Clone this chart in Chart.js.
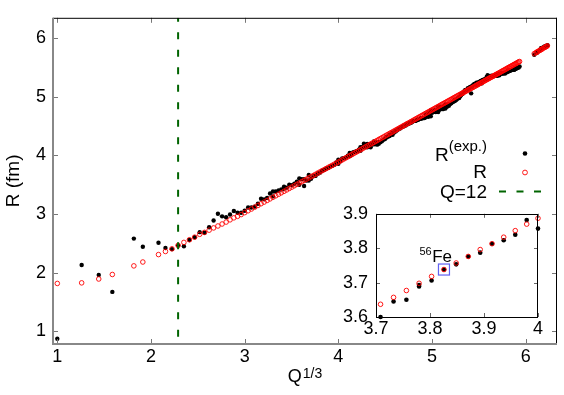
<!DOCTYPE html>
<html>
<head>
<meta charset="utf-8">
<script src="https://cdn.jsdelivr.net/npm/chart.js@4.4.1/dist/chart.umd.min.js"></script>
<style>
  html, body { margin: 0; padding: 0; background: #fff; }
  #wrap { position: relative; width: 564px; height: 395px; }
  #main { position: absolute; left: 0; top: 0; }
  #inset { position: absolute; left: 330px; top: 195px; }
</style>
</head>
<body>
<div id="wrap">
  <canvas id="main" width="564" height="395"></canvas>
  <canvas id="inset" width="220" height="152"></canvas>
</div>
<script>
// ---------------- data (Q = mass number, R in fm) ----------------
const expQ = [
  1,2,3,4,6,7,9,10,11,12,
  13,14,15,16,17,18,19,20,21,22,
  23,24,25,26,27,28,29,30,31,32,
  33,34,35,36,36,37,38,39,40,40,
  41,42,43,44,45,46,46,47,48,48,
  49,50,50,51,52,53,54,54,55,56,
  57,58,59,60,61,62,63,64,64,65,
  66,67,68,69,70,70,71,72,73,74,
  74,75,76,76,77,78,78,79,80,80,
  81,82,82,83,84,84,85,86,86,87,
  87,88,89,90,91,92,92,93,94,94,
  95,96,96,96,97,98,98,99,100,100,
  101,102,102,103,104,104,105,106,106,107,
  108,108,109,110,110,111,112,112,113,113,
  114,114,115,116,116,117,118,119,120,120,
  121,122,122,123,124,124,124,125,126,126,
  127,128,128,129,130,130,130,131,132,132,
  133,134,134,135,136,136,136,137,138,138,
  139,140,141,142,142,143,144,144,145,146,
  147,148,148,149,150,150,151,152,152,153,
  154,154,155,156,156,157,158,158,159,160,
  160,161,162,162,163,164,164,165,166,167,
  168,168,169,170,170,171,172,173,174,174,
  175,176,176,177,178,179,180,180,181,182,
  183,184,184,185,186,186,187,187,188,189,
  190,191,192,192,193,194,195,196,196,197,
  198,198,199,200,201,202,203,204,204,205,
  206,207,208,209,226,229,230,232,233,234,
  235,236,238,239,240,242
];
const expR = [
  0.87,2.13,1.96,1.67,2.58,2.44,2.51,2.42,2.40,2.46,
  2.45,2.555,2.604,2.69,2.68,2.774,2.89,3.005,2.96,2.945,
  2.99,3.05,3.02,3.02,3.055,3.11,3.11,3.125,3.175,3.26,
  3.25,3.275,3.35,3.385,3.30,3.385,3.40,3.42,3.467,3.43,
  3.45,3.50,3.49,3.516,3.55,3.50,3.607,3.596,3.477,3.592,
  3.572,3.571,3.665,3.600,3.645,3.650,3.689,3.693,3.706,3.738,
  3.753,3.776,3.787,3.813,3.823,3.839,3.882,3.857,3.928,3.902,
  3.950,3.953,3.966,3.997,3.988,4.041,4.010,4.057,4.063,4.074,
  4.070,4.097,4.081,4.139,4.140,4.140,4.200,4.160,4.140,4.198,
  4.160,4.140,4.192,4.190,4.188,4.240,4.200,4.184,4.226,4.198,
  4.224,4.224,4.243,4.269,4.280,4.306,4.315,4.324,4.332,4.352,
  4.360,4.351,4.384,4.390,4.390,4.409,4.420,4.430,4.445,4.450,
  4.460,4.480,4.480,4.490,4.510,4.500,4.510,4.530,4.540,4.540,
  4.550,4.560,4.560,4.580,4.580,4.590,4.590,4.590,4.600,4.600,
  4.610,4.610,4.620,4.630,4.630,4.630,4.640,4.640,4.650,4.700,
  4.680,4.660,4.720,4.690,4.670,4.720,4.770,4.730,4.740,4.770,
  4.750,4.740,4.780,4.780,4.740,4.780,4.830,4.780,4.790,4.830,
  4.800,4.790,4.830,4.830,4.800,4.830,4.870,4.830,4.840,4.870,
  4.850,4.880,4.890,4.910,4.910,4.920,4.930,4.950,4.940,4.960,
  4.980,4.980,5.000,5.010,5.040,5.040,5.050,5.080,5.080,5.110,
  5.110,5.120,5.120,5.140,5.150,5.140,5.160,5.170,5.060,5.170,
  5.190,5.200,5.210,5.220,5.210,5.220,5.240,5.200,5.250,5.250,
  5.260,5.270,5.230,5.280,5.290,5.290,5.300,5.300,5.310,5.340,
  5.370,5.320,5.350,5.350,5.350,5.360,5.350,5.350,5.350,5.360,
  5.360,5.370,5.380,5.360,5.380,5.390,5.370,5.390,5.400,5.400,
  5.400,5.400,5.410,5.410,5.400,5.420,5.420,5.430,5.450,5.440,
  5.440,5.450,5.450,5.460,5.460,5.470,5.460,5.480,5.480,5.480,
  5.490,5.500,5.500,5.520,5.720,5.750,5.770,5.785,5.800,5.830,
  5.830,5.840,5.857,5.860,5.870,5.880
];
const modQ = [
  1,2,3,4,6,7,9,10,11,12,
  13,14,15,16,17,18,19,20,21,22,
  23,24,25,26,27,28,29,30,31,32,
  33,34,35,36,37,38,39,40,41,42,
  43,44,45,46,47,48,49,50,51,52,
  53,54,55,56,57,58,59,60,61,62,
  63,64,65,66,67,68,69,70,71,72,
  73,74,75,76,77,78,79,80,81,82,
  83,84,85,86,87,88,89,90,91,92,
  93,94,95,96,97,98,99,100,101,102,
  103,104,105,106,107,108,109,110,111,112,
  113,114,115,116,117,118,119,120,121,122,
  123,124,125,126,127,128,129,130,131,132,
  133,134,135,136,137,138,139,140,141,142,
  143,144,145,146,147,148,149,150,151,152,
  153,154,155,156,157,158,159,160,161,162,
  163,164,165,166,167,168,169,170,171,172,
  173,174,175,176,177,178,179,180,181,182,
  183,184,185,186,187,188,189,190,191,192,
  193,194,195,196,197,198,199,200,201,202,
  203,204,205,206,207,208,209,226,228,229,
  230,232,233,234,235,236,238,239,240,241,
  242
];
const modR = [
  1.814,1.824,1.890,1.967,2.114,2.180,2.307,2.360,2.405,2.465,
  2.515,2.560,2.604,2.653,2.686,2.724,2.762,2.795,2.829,2.862,
  2.900,2.934,2.960,2.990,3.023,3.055,3.085,3.116,3.145,3.175,
  3.203,3.231,3.258,3.285,3.311,3.337,3.362,3.387,3.411,3.436,
  3.459,3.482,3.506,3.528,3.551,3.573,3.594,3.616,3.637,3.657,
  3.677,3.698,3.718,3.738,3.757,3.776,3.796,3.813,3.832,3.851,
  3.870,3.887,3.905,3.924,3.942,3.960,3.977,3.995,4.012,4.030,
  4.047,4.063,4.080,4.097,4.113,4.130,4.146,4.162,4.178,4.194,
  4.209,4.225,4.240,4.255,4.271,4.286,4.301,4.315,4.330,4.345,
  4.359,4.374,4.388,4.402,4.416,4.430,4.444,4.458,4.472,4.485,
  4.499,4.512,4.526,4.539,4.552,4.565,4.578,4.591,4.604,4.617,
  4.630,4.642,4.655,4.667,4.680,4.692,4.705,4.717,4.729,4.741,
  4.753,4.765,4.777,4.789,4.800,4.812,4.824,4.835,4.847,4.858,
  4.870,4.881,4.892,4.903,4.914,4.925,4.936,4.947,4.958,4.969,
  4.980,4.991,5.001,5.012,5.023,5.033,5.044,5.054,5.065,5.075,
  5.085,5.096,5.106,5.116,5.126,5.136,5.146,5.156,5.166,5.176,
  5.186,5.196,5.206,5.216,5.226,5.235,5.245,5.254,5.264,5.274,
  5.283,5.293,5.302,5.311,5.321,5.330,5.339,5.349,5.358,5.367,
  5.376,5.385,5.394,5.403,5.412,5.421,5.430,5.440,5.448,5.457,
  5.466,5.475,5.484,5.493,5.501,5.510,5.519,5.527,5.536,5.545,
  5.553,5.562,5.570,5.579,5.587,5.596,5.604,5.738,5.755,5.763,
  5.772,5.789,5.797,5.805,5.814,5.822,5.839,5.847,5.855,5.863,
  5.871
];
const cutQ = 12;                 // vertical marker Q = 12
const markQ = 56, markR = 3.738; // highlighted 56Fe
const xTicks = [1, 2, 3, 4, 5, 6];
const yTicks = [1, 2, 3, 4, 5, 6];
const insetXTicks = [3.7, 3.8, 3.9, 4];
const insetYTicks = [3.6, 3.7, 3.8, 3.9];
const legendLabels = ['R', '(exp.)', 'R', 'Q=12'];
const xTitle = ['Q', '1/3'];
const yTitle = 'R (fm)';
const markLabel = ['56', 'Fe'];

// ---------------- setup ----------------
const FONT = "'Liberation Sans', Arial, Helvetica, sans-serif";
Chart.defaults.font.family = FONT;
Chart.defaults.color = '#000';

const toPts = (qs, rs) => qs.map((q, i) => ({ x: Math.cbrt(q), y: rs[i] }));
const expPts = toPts(expQ, expR);
const modPts = toPts(modQ, modR);

const X_MIN = 0.954, X_MAX = 6.334, Y_MIN = 0.78, Y_MAX = 6.35;
const RED = 'rgba(255,0,0,0.9)';
const GREEN = '#006400';

function seg(ctx, x1, y1, x2, y2) { ctx.beginPath(); ctx.moveTo(x1, y1); ctx.lineTo(x2, y2); ctx.stroke(); }

const mainDeco = {
  id: 'mainDeco',
  afterDatasetsDraw(chart) {
    const { ctx, chartArea: a, scales: { x, y } } = chart;
    ctx.save();
    ctx.lineWidth = 1;
    ctx.strokeStyle = '#777';
    xTicks.forEach(v => {
      const p = Math.round(x.getPixelForValue(v)) + 0.5;
      seg(ctx, p, a.bottom, p, a.bottom - 5);
      seg(ctx, p, a.top, p, a.top + 5);
    });
    yTicks.forEach(v => {
      const p = Math.round(y.getPixelForValue(v)) + 0.5;
      seg(ctx, a.left, p, a.left + 5, p);
      seg(ctx, a.right, p, a.right - 5, p);
    });
    ctx.strokeStyle = '#000';
    ctx.lineWidth = 1;
    seg(ctx, a.left, a.top + 0.5, a.right, a.top + 0.5);
    seg(ctx, a.right - 0.5, a.top, a.right - 0.5, a.bottom);
    ctx.strokeStyle = '#888';
    ctx.lineWidth = 2;
    seg(ctx, a.left, a.top, a.left, a.bottom + 1);
    seg(ctx, a.left - 1, a.bottom, a.right, a.bottom);
    ctx.restore();
  },
  afterDraw(chart) {
    const { ctx } = chart;
    ctx.save();
    ctx.fillStyle = '#000';
    ctx.textBaseline = 'alphabetic';
    // legend
    const tx = 487, sx = 525;
    ctx.font = '19px ' + FONT;
    const rW = ctx.measureText(legendLabels[0]).width;
    ctx.font = '15px ' + FONT;
    const sW = ctx.measureText(legendLabels[1]).width;
    ctx.font = '19px ' + FONT;
    ctx.fillText(legendLabels[0], tx - sW - rW, 160.5);
    ctx.font = '15px ' + FONT;
    ctx.fillText(legendLabels[1], tx - sW, 150.5);
    ctx.font = '19px ' + FONT;
    ctx.textAlign = 'right';
    ctx.fillText(legendLabels[2], tx, 177.5);
    ctx.fillText(legendLabels[3], tx, 198);
    ctx.textAlign = 'left';
    ctx.beginPath(); ctx.arc(sx, 153.5, 2.3, 0, Math.PI * 2); ctx.fill();
    ctx.strokeStyle = RED; ctx.lineWidth = 1;
    ctx.beginPath(); ctx.arc(sx, 172.5, 2.4, 0, Math.PI * 2); ctx.stroke();
    ctx.strokeStyle = GREEN; ctx.lineWidth = 2; ctx.setLineDash([7, 10.5]);
    seg(ctx, 499, 191.5, 547, 191.5);
    ctx.setLineDash([]);
    // x title  Q^{1/3}
    ctx.font = '18px ' + FONT;
    const qW = ctx.measureText(xTitle[0]).width;
    ctx.font = '14px ' + FONT;
    const fW = ctx.measureText(xTitle[1]).width;
    const cx = (chart.chartArea.left + chart.chartArea.right) / 2;
    const x0 = cx - (qW + fW + 1) / 2;
    ctx.font = '18px ' + FONT;
    ctx.fillText(xTitle[0], x0, 382);
    ctx.font = '14px ' + FONT;
    ctx.fillText(xTitle[1], x0 + qW + 1, 377.5);
    ctx.restore();
  }
};

const tickFont = { size: 18, family: FONT };

new Chart(document.getElementById('main'), {
  type: 'scatter',
  data: {
    datasets: [
      {
        label: 'Q=12', type: 'line', order: 0,
        data: [{ x: Math.cbrt(cutQ), y: Y_MAX }, { x: Math.cbrt(cutQ), y: Y_MIN }],
        borderColor: GREEN, borderWidth: 2, borderDash: [7, 10.5], borderDashOffset: 3,
        pointRadius: 0, fill: false
      },
      {
        label: 'R', order: 1, data: modPts,
        pointRadius: 2.3, pointBorderWidth: 1,
        pointBorderColor: RED, pointBackgroundColor: 'rgba(0,0,0,0)',
        borderColor: RED, backgroundColor: 'rgba(0,0,0,0)'
      },
      {
        label: 'R(exp.)', order: 2, data: expPts,
        pointRadius: 2.2, pointBorderWidth: 0,
        pointBackgroundColor: '#000', pointBorderColor: '#000',
        borderColor: '#000', backgroundColor: '#000'
      }
    ]
  },
  options: {
    responsive: false, animation: false, devicePixelRatio: 1, events: [],
    layout: { padding: { top: 7, right: 7, left: 0, bottom: 0 } },
    plugins: { legend: { display: false }, tooltip: { enabled: false } },
    scales: {
      x: {
        type: 'linear', min: X_MIN, max: X_MAX,
        afterFit: s => { s.height = 51; },
        afterBuildTicks: s => { s.ticks = xTicks.map(v => ({ value: v })); },
        grid: { display: false, drawTicks: false }, border: { display: false },
        ticks: { font: tickFont, color: '#000', padding: 2, maxRotation: 0, autoSkip: false }
      },
      y: {
        type: 'linear', min: Y_MIN, max: Y_MAX,
        afterFit: s => { s.width = 53; },
        afterBuildTicks: s => { s.ticks = yTicks.map(v => ({ value: v })); },
        grid: { display: false, drawTicks: false }, border: { display: false },
        ticks: { font: tickFont, color: '#000', padding: 7, autoSkip: false },
        title: { display: true, text: yTitle, font: { size: 19, family: FONT }, color: '#000', padding: { top: 2 } }
      }
    }
  },
  plugins: [mainDeco]
});

// ---------------- inset ----------------
const insetDeco = {
  id: 'insetDeco',
  beforeDatasetsDraw(chart) {
    const { ctx, chartArea: a } = chart;
    ctx.save();
    ctx.fillStyle = '#fff';
    ctx.fillRect(a.left, a.top, a.right - a.left, a.bottom - a.top);
    ctx.restore();
  },
  afterDatasetsDraw(chart) {
    const { ctx, chartArea: a, scales: { x, y } } = chart;
    ctx.save();
    ctx.lineWidth = 1;
    ctx.strokeStyle = '#666';
    insetXTicks.forEach(v => {
      const p = Math.round(x.getPixelForValue(v)) + 0.5;
      seg(ctx, p, a.bottom, p, a.bottom - 4);
      seg(ctx, p, a.top, p, a.top + 4);
    });
    insetYTicks.forEach(v => {
      const p = Math.round(y.getPixelForValue(v)) + 0.5;
      seg(ctx, a.left, p, a.left + 4, p);
      seg(ctx, a.right, p, a.right - 4, p);
    });
    ctx.strokeStyle = '#000';
    ctx.strokeRect(Math.round(a.left) + 0.5, Math.round(a.top) + 0.5,
                   Math.round(a.right - a.left) - 1, Math.round(a.bottom - a.top));
    // highlight 56Fe
    const px = x.getPixelForValue(Math.cbrt(markQ)), py = y.getPixelForValue(markR);
    ctx.strokeStyle = 'rgba(70,70,240,0.85)';
    ctx.lineWidth = 1.2;
    ctx.strokeRect(px - 5.5, py - 5.5, 11, 11);
    ctx.fillStyle = '#000';
    ctx.font = '11px ' + FONT;
    const w56 = ctx.measureText(markLabel[0]).width;
    ctx.fillText(markLabel[0], px - 24.5, py - 14.5);
    ctx.font = '17px ' + FONT;
    ctx.fillText(markLabel[1], px - 24.5 + w56 + 0.5, py - 8);
    ctx.restore();
  }
};

new Chart(document.getElementById('inset'), {
  type: 'scatter',
  data: {
    datasets: [
      {
        label: 'R', order: 1, data: modPts, clip: 3,
        pointRadius: 2.3, pointBorderWidth: 1,
        pointBorderColor: RED, pointBackgroundColor: 'rgba(0,0,0,0)'
      },
      {
        label: 'R(exp.)', order: 2, data: expPts, clip: 3,
        pointRadius: 2.3, pointBorderWidth: 0,
        pointBackgroundColor: '#000', pointBorderColor: '#000'
      }
    ]
  },
  options: {
    responsive: false, animation: false, devicePixelRatio: 1, events: [],
    layout: { padding: { top: 17, right: 12, left: 0, bottom: 0 } },
    plugins: { legend: { display: false }, tooltip: { enabled: false } },
    scales: {
      x: {
        type: 'linear', min: 3.7, max: 4.0,
        afterFit: s => { s.height = 30; },
        afterBuildTicks: s => { s.ticks = insetXTicks.map(v => ({ value: v })); },
        grid: { display: false, drawTicks: false }, border: { display: false },
        ticks: { font: tickFont, color: '#000', padding: 1, maxRotation: 0, autoSkip: false,
                 callback: v => String(Math.round(v * 10) / 10) }
      },
      y: {
        type: 'linear', min: 3.6, max: 3.9,
        afterFit: s => { s.width = 46; },
        afterBuildTicks: s => { s.ticks = insetYTicks.map(v => ({ value: v })); },
        grid: { display: false, drawTicks: false }, border: { display: false },
        ticks: { font: tickFont, color: '#000', padding: 8, autoSkip: false,
                 callback: v => (Math.round(v * 10) / 10).toFixed(1) }
      }
    }
  },
  plugins: [insetDeco]
});
</script>
</body>
</html>
